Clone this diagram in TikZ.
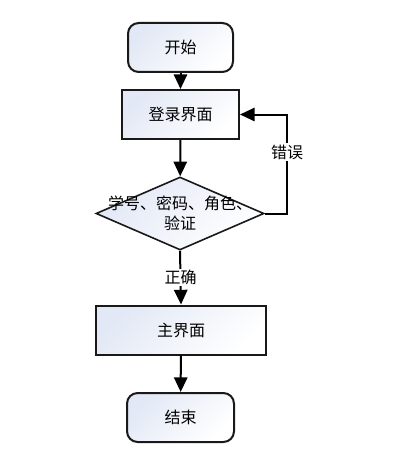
\documentclass[tikz,border=0pt]{standalone}
\usepackage{fontspec}
\setmainfont{Noto Sans CJK SC}
\usetikzlibrary{arrows.meta,shapes.geometric}
\definecolor{shadeblue}{HTML}{E2E8F5}
\begin{document}
\begin{tikzpicture}[x=0.75pt,y=-0.75pt,
  boxfill/.style={left color=shadeblue, right color=white, shading angle=45},
  term/.style={draw=black!90, line width=1.5pt, rounded corners=8pt, boxfill, minimum width=105*0.75pt, minimum height=49*0.75pt, font=\fontsize{12}{15}\selectfont, inner sep=0pt},
  proc/.style={draw=black!90, line width=1.5pt, boxfill, minimum height=49*0.75pt, font=\fontsize{12}{15}\selectfont, inner sep=0pt},
  dec/.style={draw=black!90, line width=1.2pt, diamond, aspect=2.3, boxfill, minimum width=168*0.75pt, minimum height=73*0.75pt, inner sep=0pt},
  conn/.style={line width=1.5pt, -{Triangle[width=10pt,length=11pt]}},
  lbl/.style={fill=white, font=\fontsize{12}{15}\selectfont, inner sep=1pt}
]
\useasboundingbox (0,0) rectangle (413,467);
\node[term] (start) at (180.5,47.5) {开始};
\node[proc, minimum width=117*0.75pt] (login) at (180.5,114.5) {登录界面};
\node[dec] (check) at (180,213.5) {};
\node[font=\fontsize{12}{15}\selectfont, align=center] (checktxt) at (180,213.5) {学号、密码、角色、\\验证};
\node[proc, minimum width=170*0.75pt] (main) at (181,330) {主界面};
\node[term, minimum width=107*0.75pt] (end) at (180.5,417.5) {结束};
\coordinate (c1) at (287,213.5);
\coordinate (c2) at (287,114.5);
\draw[conn] (start) -- (login);
\draw[conn] (login) -- (check);
\draw[conn] (check.east) -- (c1) -- node[lbl, pos=0.62] {错误} (c2) -- (login.east);
\draw[conn] (check.south) -- node[lbl, pos=0.5] {正确} (main.north);
\draw[conn] (main) -- (end);
\end{tikzpicture}
\end{document}
